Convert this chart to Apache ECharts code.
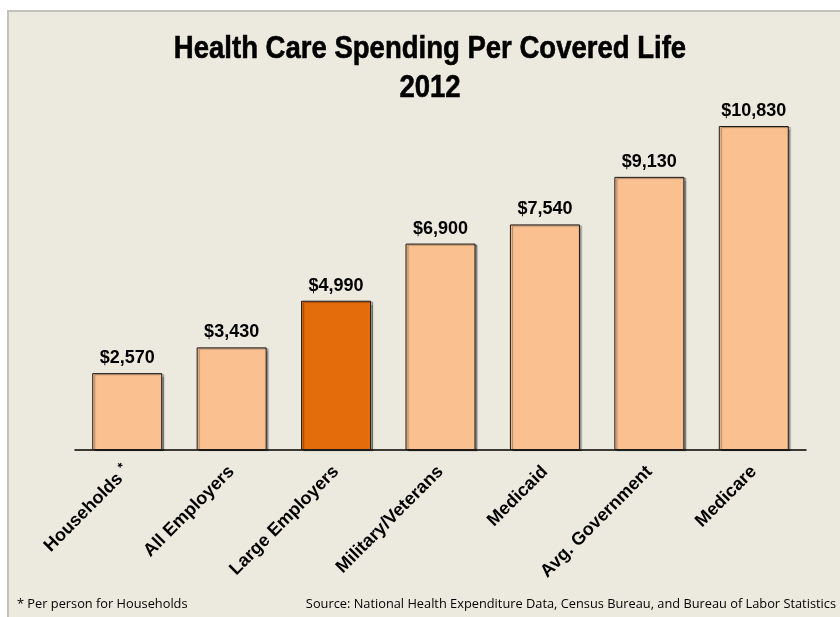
<!DOCTYPE html>
<html>
<head>
<meta charset="utf-8">
<script src="https://cdn.jsdelivr.net/npm/echarts@6/dist/echarts.min.js"></script>
<style>
  html, body { margin: 0; padding: 0; background: #ffffff; }
  #chart { width: 840px; height: 617px; }
</style>
</head>
<body>
<div id="chart"></div>
<script>
// Health care spending per covered life, 2012 (US dollars)
const categories = ['Households', 'All Employers', 'Large Employers', 'Military/Veterans', 'Medicaid', 'Avg. Government', 'Medicare'];
const spending = [2570, 3430, 4990, 6900, 7540, 9130, 10830];
const highlighted = 'Large Employers';

const lightOrange = '#FAC090';
const darkOrange = '#E46C0A';
const titleFont = 'bold 32px "Liberation Sans", Arial, sans-serif';

const chart = echarts.init(document.getElementById('chart'), null, { renderer: 'canvas' });

const barData = spending.map((v, i) => ({
  value: v,
  itemStyle: { color: categories[i] === highlighted ? darkOrange : lightOrange }
}));

chart.setOption({
  backgroundColor: '#ffffff',
  animation: false,
  graphic: [
    {
      type: 'rect',
      z: -10,
      shape: { x: 8, y: 11, width: 850, height: 620 },
      style: { fill: '#ECEADF', stroke: '#C3C3BE', lineWidth: 2 }
    },
    // condensed two-line title
    {
      type: 'text',
      x: 430, y: 49,
      scaleX: 0.86,
      style: {
        text: 'Health Care Spending Per Covered Life',
        fill: '#000000',
        stroke: '#000000',
        lineWidth: 0.6,
        font: titleFont,
        textAlign: 'center',
        textVerticalAlign: 'middle'
      }
    },
    {
      type: 'text',
      x: 430, y: 88,
      scaleX: 0.86,
      style: {
        text: '2012',
        fill: '#000000',
        stroke: '#000000',
        lineWidth: 0.6,
        font: titleFont,
        textAlign: 'center',
        textVerticalAlign: 'middle'
      }
    },
    {
      type: 'text',
      left: 17,
      top: 598,
      style: {
        text: '* Per person for Households',
        fill: '#000000',
        font: '12.8px "Open Sans", "Noto Sans", sans-serif'
      }
    },
    {
      type: 'text',
      right: 4,
      top: 598,
      style: {
        text: 'Source: National Health Expenditure Data, Census Bureau, and Bureau of Labor Statistics',
        fill: '#000000',
        font: '12.8px "Open Sans", "Noto Sans", sans-serif'
      }
    }
  ],
  grid: { left: 75, right: 34, top: 91, bottom: 167, containLabel: false },
  xAxis: {
    type: 'category',
    data: categories,
    axisLine: { show: true, lineStyle: { color: '#000000', width: 1.5 } },
    axisTick: { show: false },
    axisLabel: {
      interval: 0,
      rotate: 45,
      margin: 19,
      color: '#000000',
      fontFamily: '"Liberation Sans", Arial, sans-serif',
      fontWeight: 'bold',
      fontSize: 18,
      formatter: (v) => v === 'Households' ? v + ' {sup|*}' : v,
      rich: {
        sup: { fontSize: 13, fontWeight: 'bold', color: '#000000', verticalAlign: 'top', padding: [0, 0, 10, 0] }
      }
    }
  },
  yAxis: {
    type: 'value',
    min: 0,
    max: 12000,
    show: false,
    splitLine: { show: false }
  },
  series: [{
    type: 'bar',
    data: barData,
    barWidth: 70,
    itemStyle: {
      borderColor: '#1a1a1a',
      borderWidth: 1,
      shadowColor: 'rgba(0,0,0,0.35)',
      shadowOffsetX: 2,
      shadowOffsetY: 1,
      shadowBlur: 1
    },
    label: {
      show: true,
      position: 'top',
      distance: 6,
      color: '#000000',
      fontFamily: '"Liberation Sans", Arial, sans-serif',
      fontWeight: 'bold',
      fontSize: 18,
      formatter: (p) => '$' + p.value.toLocaleString('en-US')
    }
  }]
});
</script>
</body>
</html>
